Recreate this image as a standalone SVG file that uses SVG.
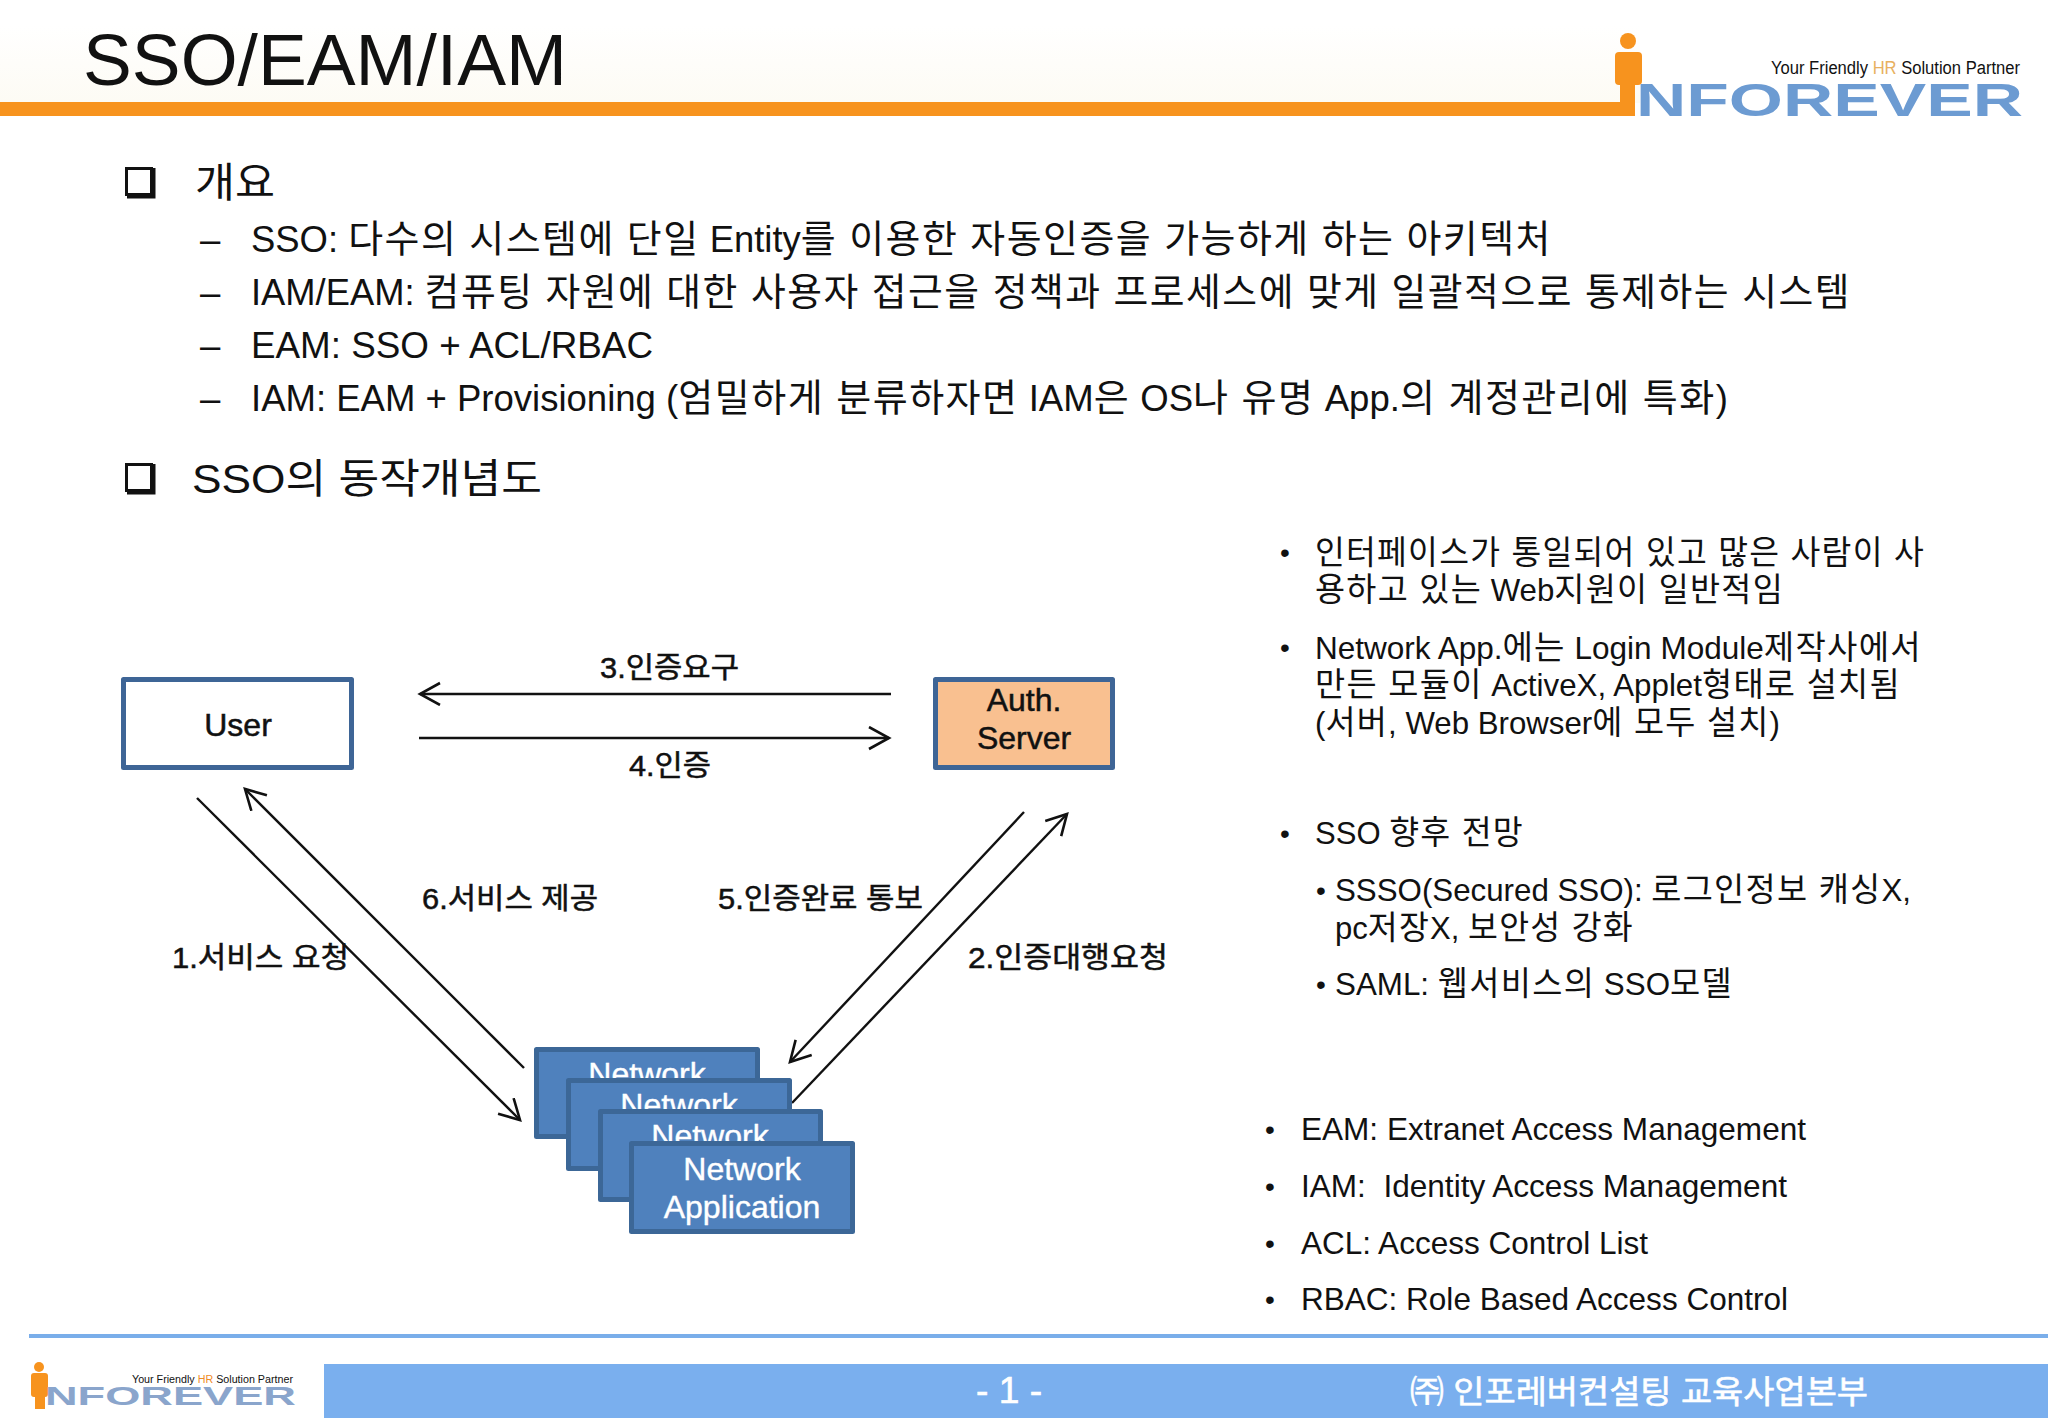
<svg xmlns="http://www.w3.org/2000/svg" width="2048" height="1418" viewBox="0 0 2048 1418">
<style>
text{font-family:"Liberation Sans","Noto Sans CJK KR",sans-serif;fill:#111;white-space:pre}
.b{font-size:36.500px}.h{font-size:41px}.r{font-size:32px}
.k{font-size:38px;letter-spacing:1.500px}
.kr{font-size:33.500px;letter-spacing:1.300px}
.d{font-size:28px}
.l{font-size:29px;stroke:#111;stroke-width:.5px}
.n{font-size:32px;fill:#fff;text-anchor:middle;stroke:#fff;stroke-width:.4px}
.u{font-size:32px;text-anchor:middle;stroke:#111;stroke-width:.5px}
.net{fill:#4f81bd;stroke:#3c6797;stroke-width:5;stroke-linejoin:round}
.c{fill:none;stroke:#111;stroke-width:2.400;marker-end:url(#a)}
.f{fill:#fff;stroke:#fff;stroke-width:.6px;font-size:32px}
.lg{fill:#6c9bd2;font-weight:bold}
.o{fill:#f7931e}
</style>
<defs>
<marker id="a" markerUnits="userSpaceOnUse" markerWidth="30" markerHeight="30" refX="22" refY="12" orient="auto"><path d="M2 1L22 12L2 23" fill="none" stroke="#111" stroke-width="2.600"/></marker>
<linearGradient id="hd" x1="0" y1="0" x2="0" y2="1"><stop offset="0" stop-color="#fff"/><stop offset="1" stop-color="#fdfbf4"/></linearGradient>
</defs>
<rect width="2048" height="1418" fill="#fff"/>
<g id="header">
<rect y="25" width="1640" height="78" fill="url(#hd)"/>
<rect y="102" width="1635" height="14" class="o"/>
<text x="83" y="85" font-size="72" textLength="484" lengthAdjust="spacingAndGlyphs">SSO/EAM/IAM</text>
</g>
<g id="logo-top">
<circle cx="1628" cy="41" r="8" class="o"/>
<rect x="1615" y="52" width="27" height="33" rx="4" class="o"/>
<rect x="1620" y="80" width="15" height="36" class="o"/>
<text x="1771" y="74" font-size="18" textLength="249" lengthAdjust="spacingAndGlyphs" fill="#333">Your Friendly <tspan fill="#e8b060">HR</tspan> Solution Partner</text>
<text x="1636" y="116" font-size="46" class="lg" textLength="387" lengthAdjust="spacingAndGlyphs">NFOREVER</text>
</g>
<g id="outline">
<g fill="none" stroke="#111"><rect x="126.500" y="168.500" width="25" height="26" stroke-width="3"/><path d="M153 168V196H127" stroke-width="5"/>
<rect x="126.500" y="464.500" width="25" height="26" stroke-width="3"/><path d="M153 464V492H127" stroke-width="5"/></g>
<text class="h" x="195" y="197" textLength="80" lengthAdjust="spacingAndGlyphs">개요</text>
<text class="b" x="200" y="252">–</text>
<text class="b" x="251" y="252" textLength="1301" lengthAdjust="spacingAndGlyphs">SSO: <tspan class="k">다수의 시스템에 단일</tspan> Entity<tspan class="k">를 이용한 자동인증을 가능하게 하는 아키텍처</tspan></text>
<text class="b" x="200" y="305">–</text>
<text class="b" x="251" y="305" textLength="1600" lengthAdjust="spacingAndGlyphs">IAM/EAM: <tspan class="k">컴퓨팅 자원에 대한 사용자 접근을 정책과 프로세스에 맞게 일괄적으로 통제하는 시스템</tspan></text>
<text class="b" x="200" y="358">–</text>
<text class="b" x="251" y="358" textLength="402" lengthAdjust="spacingAndGlyphs">EAM: SSO + ACL/RBAC</text>
<text class="b" x="200" y="411">–</text>
<text class="b" x="251" y="411" textLength="1477" lengthAdjust="spacingAndGlyphs">IAM: EAM + Provisioning (<tspan class="k">엄밀하게 분류하자면</tspan> IAM<tspan class="k">은</tspan> OS<tspan class="k">나 유명</tspan> App.<tspan class="k">의 계정관리에 특화</tspan>)</text>
<text class="h" x="192" y="493" textLength="350" lengthAdjust="spacingAndGlyphs">SSO의 동작개념도</text>
</g>
<g id="notes">
<text class="d" x="1280" y="562">•</text>
<text class="r" x="1315" y="564" textLength="610" lengthAdjust="spacingAndGlyphs"><tspan class="kr">인터페이스가 통일되어 있고 많은 사람이 사</tspan></text>
<text class="r" x="1315" y="601" textLength="469" lengthAdjust="spacingAndGlyphs"><tspan class="kr">용하고 있는</tspan> Web<tspan class="kr">지원이 일반적임</tspan></text>
<text class="d" x="1280" y="657">•</text>
<text class="r" x="1315" y="659" textLength="607" lengthAdjust="spacingAndGlyphs">Network App.<tspan class="kr">에는</tspan> Login Module<tspan class="kr">제작사에서</tspan></text>
<text class="r" x="1315" y="696" textLength="586" lengthAdjust="spacingAndGlyphs"><tspan class="kr">만든 모듈이</tspan> ActiveX, Applet<tspan class="kr">형태로 설치됨</tspan></text>
<text class="r" x="1315" y="734" textLength="465" lengthAdjust="spacingAndGlyphs">(<tspan class="kr">서버</tspan>, Web Browser<tspan class="kr">에 모두 설치</tspan>)</text>
<text class="d" x="1280" y="843">•</text>
<text class="r" x="1315" y="844" textLength="209" lengthAdjust="spacingAndGlyphs">SSO <tspan class="kr">향후 전망</tspan></text>
<text class="d" x="1316" y="900">•</text>
<text class="r" x="1335" y="901" textLength="576" lengthAdjust="spacingAndGlyphs">SSSO(Secured SSO): <tspan class="kr">로그인정보 캐싱</tspan>X,</text>
<text class="r" x="1335" y="939" textLength="299" lengthAdjust="spacingAndGlyphs">pc<tspan class="kr">저장</tspan>X, <tspan class="kr">보안성 강화</tspan></text>
<text class="d" x="1316" y="994">•</text>
<text class="r" x="1335" y="995" textLength="398" lengthAdjust="spacingAndGlyphs">SAML: <tspan class="kr">웹서비스의</tspan> SSO<tspan class="kr">모델</tspan></text>
<text class="d" x="1265" y="1139">•</text>
<text class="r" x="1301" y="1140" textLength="505" lengthAdjust="spacingAndGlyphs">EAM: Extranet Access Management</text>
<text class="d" x="1265" y="1196">•</text>
<text class="r" x="1301" y="1197" textLength="486" lengthAdjust="spacingAndGlyphs">IAM:  Identity Access Management</text>
<text class="d" x="1265" y="1253">•</text>
<text class="r" x="1301" y="1254" textLength="347" lengthAdjust="spacingAndGlyphs">ACL: Access Control List</text>
<text class="d" x="1265" y="1309">•</text>
<text class="r" x="1301" y="1310" textLength="487" lengthAdjust="spacingAndGlyphs">RBAC: Role Based Access Control</text>
</g>
<g id="connectors">
<path class="c" d="M891 694H420"/>
<path class="c" d="M419 738H889"/>
<path class="c" d="M197 798L520 1120"/>
<path class="c" d="M524 1068L245 789"/>
<path class="c" d="M1024 812L790 1062"/>
<path class="c" d="M792 1103L1067 814"/>
</g>
<g id="connector-labels">
<text class="l" x="600" y="678" textLength="139" lengthAdjust="spacingAndGlyphs">3.인증요구</text>
<text class="l" x="629" y="776" textLength="82" lengthAdjust="spacingAndGlyphs">4.인증</text>
<text class="l" x="422" y="909" textLength="176" lengthAdjust="spacingAndGlyphs">6.서비스 제공</text>
<text class="l" x="718" y="909" textLength="205" lengthAdjust="spacingAndGlyphs">5.인증완료 통보</text>
<text class="l" x="172" y="968" textLength="177" lengthAdjust="spacingAndGlyphs">1.서비스 요청</text>
<text class="l" x="968" y="968" textLength="200" lengthAdjust="spacingAndGlyphs">2.인증대행요청</text>
</g>
<g id="user"><rect x="123.500" y="679.500" width="228" height="88" fill="#fff" stroke="#3e6596" stroke-width="5" stroke-linejoin="round"/><text class="u" x="238" y="736">User</text></g>
<g id="auth-server"><rect x="935.500" y="679.500" width="177" height="88" fill="#f9c090" stroke="#3e6596" stroke-width="5" stroke-linejoin="round"/><text class="u" x="1024" y="711">Auth.</text><text class="u" x="1024" y="749">Server</text></g>
<g id="network-app-1"><rect class="net" x="536.500" y="1049.500" width="221" height="87"/><text class="n" x="647" y="1085">Network</text></g>
<g id="network-app-2"><rect class="net" x="568.500" y="1080.500" width="221" height="88"/><text class="n" x="679" y="1116">Network</text></g>
<g id="network-app-3"><rect class="net" x="600.500" y="1111.500" width="220" height="88"/><text class="n" x="710" y="1147">Network</text></g>
<g id="network-app-4"><rect class="net" x="631.500" y="1143.500" width="221" height="88"/><text class="n" x="742" y="1180">Network</text><text class="n" x="742" y="1218">Application</text></g>
<g id="footer">
<rect x="29" y="1334" width="2019" height="4" fill="#7aaeea"/>
<rect x="324" y="1364" width="1724" height="54" fill="#7aafee"/>
<circle cx="39" cy="1367" r="5" class="o"/>
<rect x="31" y="1373" width="17" height="24" rx="3" class="o"/>
<rect x="35" y="1395" width="10" height="14" class="o"/>
<text x="132" y="1383" font-size="10" textLength="161" lengthAdjust="spacingAndGlyphs" fill="#555">Your Friendly <tspan fill="#f08a24">HR</tspan> Solution Partner</text>
<text x="45" y="1405" font-size="26" class="lg" textLength="251" lengthAdjust="spacingAndGlyphs" style="fill:#8aa5cc">NFOREVER</text>
<text class="f" x="976" y="1403" style="font-size:36px" textLength="66" lengthAdjust="spacingAndGlyphs">- 1 -</text>
<text class="f" x="1410" y="1403" textLength="458" lengthAdjust="spacingAndGlyphs">㈜ 인포레버컨설팅 교육사업본부</text>
</g>
</svg>
